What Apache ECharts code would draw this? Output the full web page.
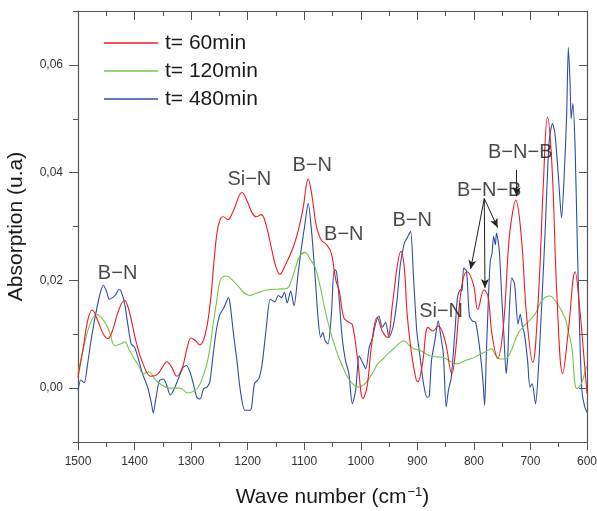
<!DOCTYPE html>
<html>
<head>
<meta charset="utf-8">
<script src="https://cdn.jsdelivr.net/npm/echarts@6/dist/echarts.min.js"></script>
<style>
  html, body { margin: 0; padding: 0; background: #fff; }
  #chart { width: 597px; height: 511px; }
</style>
</head>
<body>
<div id="chart"></div>
<script>
// FTIR absorption spectra after three reaction times (wave number in cm-1)
const wn60 = [1500,1490,1483,1475,1465,1455,1447,1438,1428,1418,1410,1397,1385,1371,1360,1350,1343,1335,1325,1315,1307,1300,1292,1285,1275,1266,1260,1254,1248,1243,1235,1225,1210,1200,1192,1185,1176,1168,1158,1150,1143,1135,1120,1110,1102,1093,1086,1079,1070,1060,1052,1044,1038,1030,1021,1015,1006,996,989,980,971,962,953,944,935,929,923,918,911,903,899,891,881,873,863,851,839,833,822,812,801,793,782,775,768,758,748,739,734,726,716,707,696,686,677,670,662,653,643,633,621,613,604,600];
const abs60 = [0.002,0.008,0.0125,0.0145,0.0125,0.0100,0.0092,0.0110,0.0145,0.0163,0.0145,0.0085,0.0045,0.0022,0.0025,0.0040,0.0049,0.0040,0.0022,0.0040,0.0075,0.0093,0.0088,0.0080,0.0100,0.0160,0.0230,0.0290,0.0315,0.0318,0.0313,0.0330,0.0363,0.0345,0.0325,0.0318,0.0322,0.0305,0.0260,0.0225,0.0211,0.0225,0.0260,0.0295,0.0334,0.0388,0.0355,0.0303,0.0275,0.0266,0.0250,0.0200,0.0180,0.0131,0.0122,0.0118,0.0057,-0.0019,0.0002,0.0088,0.0131,0.0106,0.0094,0.0156,0.0230,0.0254,0.0223,0.0137,0.0070,0.0020,0.0012,0.0045,0.0113,0.0106,0.0115,0.0088,0.0027,0.0063,0.0186,0.0216,0.0193,0.0146,0.0182,0.0170,0.0100,0.0055,0.0113,0.0260,0.0310,0.0349,0.0279,0.0137,0.0048,0.0168,0.0383,0.0503,0.0414,0.0168,0.0027,0.0106,0.0216,0.0149,0.0040,-0.0010];

const wn120 = [1500,1490,1480,1467,1458,1449,1443,1435,1425,1417,1410,1402,1393,1385,1374,1365,1355,1337,1320,1305,1295,1287,1278,1272,1266,1261,1255,1249,1243,1237,1225,1214,1205,1196,1185,1166,1145,1131,1123,1115,1108,1099,1090,1081,1072,1064,1055,1047,1040,1030,1020,1010,1003,995,988,978,970,960,953,940,930,924,915,906,895,878,865,854,842,830,818,807,797,789,778,769,762,754,745,736,721,705,692,680,666,654,639,633,627,618,610,601,600];
const abs120 = [0.0027,0.0075,0.0115,0.0137,0.0130,0.0116,0.0100,0.0079,0.0082,0.0086,0.0072,0.0057,0.0042,0.0027,0.0030,0.0018,0.0008,0.0000,0.0000,-0.0009,-0.0005,0.0002,0.0025,0.0045,0.0080,0.0119,0.0160,0.0199,0.0207,0.0208,0.0198,0.0186,0.0176,0.0172,0.0176,0.0182,0.0184,0.0185,0.0199,0.0225,0.0245,0.0252,0.0240,0.0225,0.0190,0.0149,0.0110,0.0082,0.0060,0.0035,0.0015,0.0004,0.0002,0.0006,0.0014,0.0030,0.0045,0.0055,0.0063,0.0075,0.0085,0.0088,0.0080,0.0073,0.0070,0.0060,0.0058,0.0057,0.0050,0.0045,0.0050,0.0054,0.0058,0.0063,0.0068,0.0073,0.0062,0.0054,0.0054,0.0065,0.0103,0.0122,0.0137,0.0162,0.0171,0.0159,0.0131,0.0105,0.0076,-0.0001,0.0008,0.0039,0.0040];

const wn480 = [1500,1495,1489,1483,1477,1471,1462,1455,1449,1445,1439,1433,1428,1424,1418,1412,1406,1400,1394,1386,1377,1370,1367,1362,1356,1349,1343,1337,1331,1325,1314,1308,1302,1296,1290,1284,1278,1272,1267,1261,1255,1249,1242,1234,1231,1225,1219,1213,1205,1196,1193,1188,1180,1174,1167,1160,1152,1146,1140,1135,1130,1124,1118,1111,1105,1099,1093,1087,1081,1076,1071,1067,1063,1058,1052,1047,1043,1038,1033,1027,1021,1015,1009,1003,997,991,985,979,974,968,962,956,950,943,936,930,923,918,912,907,901,895,889,883,879,875,869,863,859,854,849,845,840,833,829,824,821,818,813,808,803,797,790,784,781,778,774,771,768,765,762,760,755,751,747,743,740,737,733,728,722,718,714,711,705,701,697,691,686,680,674,667,661,657,652,648,645,640,636,633,630,628,625,621,617,613,609,604,600];
const abs480 = [-0.0005,0.0015,0.0010,0.0045,0.0088,0.0125,0.0171,0.0191,0.0178,0.0165,0.0168,0.0174,0.0183,0.0180,0.0159,0.0119,0.0082,0.0076,0.0057,0.0027,0.0002,-0.0029,-0.0046,-0.0017,0.0014,0.0017,0.0005,-0.0013,-0.0004,0.0011,0.0039,0.0042,0.0030,0.0008,-0.0017,-0.0020,-0.0001,0.0002,0.0011,0.0063,0.0110,0.0137,0.0149,0.0168,0.0156,0.0100,0.0051,-0.0004,-0.0041,-0.0041,-0.0035,0.0008,0.0018,0.0048,0.0113,0.0165,0.0160,0.0172,0.0168,0.0178,0.0158,0.0180,0.0153,0.0211,0.0260,0.0303,0.0343,0.0291,0.0211,0.0137,0.0094,0.0103,0.0088,0.0082,0.0137,0.0220,0.0217,0.0162,0.0094,0.0051,0.0027,-0.0029,-0.0004,0.0060,0.0048,0.0036,0.0076,0.0094,0.0119,0.0134,0.0113,0.0122,0.0094,0.0113,0.0162,0.0230,0.0269,0.0279,0.0291,0.0211,0.0106,0.0057,0.0008,-0.0017,-0.0015,0.0051,0.0088,0.0125,0.0100,0.0063,-0.0035,-0.0004,0.0020,0.0113,0.0168,0.0183,0.0180,0.0223,0.0217,0.0134,0.0125,0.0122,0.0076,0.0014,-0.0032,0.0063,0.0174,0.0236,0.0250,0.0282,0.0266,0.0288,0.0254,0.0174,0.0100,0.0027,0.0063,0.0150,0.0205,0.0193,0.0119,0.0137,0.0113,0.0103,0.0051,0.0002,0.0008,-0.0029,0.0033,0.0156,0.0291,0.0457,0.0491,0.0475,0.0414,0.0352,0.0316,0.0402,0.0506,0.0632,0.0568,0.0500,0.0528,0.0445,0.0260,0.0106,-0.0004,-0.0035,-0.0045];

const seriesNames = ['t= 60min', 't= 120min', 't= 480min'];
const seriesColors = ['#f01a22', '#72c64a', '#2c4fa4'];

// Axis tick values
const yLabelValues = [0, 0.02, 0.04, 0.06];
const yMinorValues = [-0.01, 0.01, 0.03, 0.05, 0.07];
const yRightValues = [-0.01, 0, 0.01, 0.02, 0.03, 0.04, 0.05, 0.06, 0.07];

// Band assignments written over the peaks
const bandText = ['B−N', 'Si−N', 'B−N', 'B−N', 'B−N', 'Si−N', 'B−N−B', 'B−N−B'];
const bandWn   = [1430, 1197, 1086, 1030, 909, 858, 773, 718];
const bandAbs  = [0.0213, 0.0387, 0.0413, 0.0285, 0.0311, 0.0143, 0.0366, 0.0437];

// Pointer arrows from the B−N−B labels to their peaks
const arrowFromWn  = [781.6, 781.6, 781.6, 724.4];
const arrowFromAbs = [0.0352, 0.0352, 0.0352, 0.0405];
const arrowToWn    = [805.7, 780.4, 758.1, 724.4];
const arrowToAbs   = [0.0221, 0.0186, 0.0298, 0.0356];

const FONT = 'Liberation Sans, Arial, sans-serif';
const AXIS_COLOR = '#555';

const pairs = (xs, ys) => xs.map((x, i) => [x, ys[i]]);
const spectra = [pairs(wn60, abs60), pairs(wn120, abs120), pairs(wn480, abs480)];

const chart = echarts.init(document.getElementById('chart'), null, { renderer: 'canvas' });

const xCommon = {
  type: 'value', min: 600, max: 1500, interval: 100, inverse: true,
  splitLine: { show: false },
  axisLine: { show: true, onZero: false, lineStyle: { color: AXIS_COLOR, width: 1.2 } }
};

const option = {
  animation: false,
  backgroundColor: '#fff',
  textStyle: { fontFamily: FONT },
  grid: { left: 78, right: 10, top: 11, bottom: 69, containLabel: false, outerBoundsMode: 'none' },
  legend: {
    data: seriesNames,
    orient: 'vertical', left: 104, top: 32, padding: 0,
    icon: 'rect', itemWidth: 54, itemHeight: 1.5, itemGap: 6,
    textStyle: { fontSize: 21, color: '#1a1a1a', fontFamily: FONT, lineHeight: 22, padding: [0, 0, 0, 2] }
  },
  xAxis: [
    Object.assign({}, xCommon, {
      position: 'bottom',
      name: 'Wave number (cm{sup|−1})',
      nameLocation: 'middle', nameGap: 44,
      nameTextStyle: {
        fontSize: 21, color: '#1a1a1a', fontFamily: FONT,
        rich: { sup: { fontSize: 13, color: '#1a1a1a', fontFamily: FONT, verticalAlign: 'top', padding: [0, 0, 10, 1] } }
      },
      axisTick: { show: true, length: 8, lineStyle: { color: AXIS_COLOR } },
      minorTick: { show: true, splitNumber: 2, length: 5, lineStyle: { color: AXIS_COLOR } },
      axisLabel: { show: true, margin: 14, fontSize: 12, color: '#333', fontFamily: FONT, formatter: v => String(v) }
    }),
    Object.assign({}, xCommon, {
      position: 'top',
      axisTick: { show: true, inside: true, length: 9, lineStyle: { color: AXIS_COLOR } },
      minorTick: { show: true, splitNumber: 2, length: 5, lineStyle: { color: AXIS_COLOR } },
      axisLabel: { show: false }
    })
  ],
  yAxis: [
    {
      type: 'value', min: -0.01, max: 0.07, position: 'left',
      name: 'Absorption (u.a)', nameLocation: 'middle', nameGap: 51, nameRotate: 90,
      nameTextStyle: { fontSize: 21, color: '#1a1a1a', fontFamily: FONT },
      splitLine: { show: false },
      axisLine: { show: true, onZero: false, lineStyle: { color: AXIS_COLOR, width: 1.2 } },
      axisTick: { show: true, length: 9, customValues: yLabelValues, lineStyle: { color: AXIS_COLOR } },
      axisLabel: {
        show: true, margin: 15, fontSize: 12, color: '#333', fontFamily: FONT,
        customValues: yLabelValues,
        formatter: v => v.toFixed(2).replace('.', ',')
      }
    },
    {
      type: 'value', min: -0.01, max: 0.07, position: 'left',
      splitLine: { show: false },
      axisLine: { show: false },
      axisTick: { show: true, length: 5, customValues: yMinorValues, lineStyle: { color: AXIS_COLOR } },
      axisLabel: { show: false }
    },
    {
      type: 'value', min: -0.01, max: 0.07, position: 'right',
      splitLine: { show: false },
      axisLine: { show: true, onZero: false, lineStyle: { color: AXIS_COLOR, width: 1.2 } },
      axisTick: { show: true, inside: true, length: 8, customValues: yRightValues, lineStyle: { color: AXIS_COLOR } },
      axisLabel: { show: false }
    }
  ],
  series: [
    ...spectra.map((d, i) => ({
      name: seriesNames[i], type: 'line', data: d,
      xAxisIndex: 0, yAxisIndex: 0,
      symbol: 'none', showSymbol: false,
      smooth: i === 2 ? 0.25 : 0.4,
      color: seriesColors[i],
      itemStyle: { color: seriesColors[i] },
      lineStyle: { color: seriesColors[i], width: 1.1 },
      z: 3 - i
    })),
    {
      name: 'bands', type: 'scatter', silent: true,
      xAxisIndex: 0, yAxisIndex: 0,
      symbolSize: 0, z: 10,
      data: bandText.map((t, i) => ({ name: t, value: [bandWn[i], bandAbs[i]] })),
      label: {
        show: true, position: 'inside', formatter: '{b}',
        fontSize: 20, color: '#1a1a1a', fontFamily: FONT
      },
      markLine: {
        silent: true, animation: false,
        symbol: ['none', 'arrow'], symbolSize: [6, 9],
        lineStyle: { color: '#222', width: 1, type: 'solid' },
        label: { show: false },
        emphasis: { disabled: true },
        data: arrowFromWn.map((w, i) => [
          { coord: [w, arrowFromAbs[i]] },
          { coord: [arrowToWn[i], arrowToAbs[i]] }
        ])
      }
    }
  ]
};

chart.setOption(option);
</script>
</body>
</html>
